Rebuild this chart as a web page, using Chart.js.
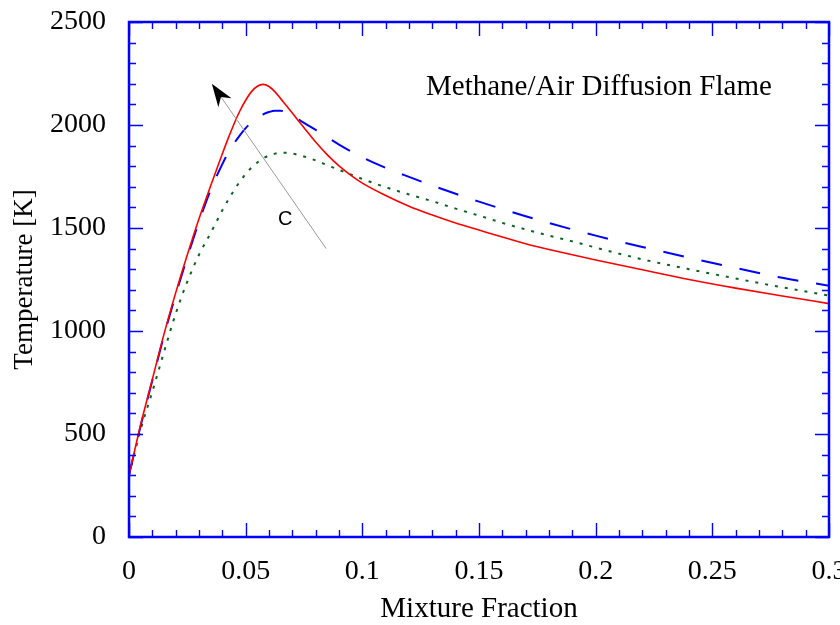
<!DOCTYPE html>
<html>
<head>
<meta charset="utf-8">
<title>Methane/Air Diffusion Flame</title>
<script src="https://cdn.jsdelivr.net/npm/chart.js@4.4.1/dist/chart.umd.min.js"></script>
<style>
  html, body { margin: 0; padding: 0; background: #ffffff; }
  #wrap { width: 840px; height: 625px; }
</style>
</head>
<body>
<div id="wrap"><canvas id="flameChart" width="840" height="625"></canvas></div>
<script>
// Mixture fraction grid shared by the three profiles (denser around the peaks)
const mixFrac = [0, 0.005, 0.01, 0.015, 0.02, 0.025, 0.03, 0.035,
  0.04, 0.0425, 0.045, 0.0475, 0.05, 0.0525, 0.055, 0.0575, 0.06, 0.0625, 0.065, 0.0675,
  0.07, 0.0725, 0.075, 0.08, 0.085, 0.09, 0.095, 0.1, 0.11, 0.12, 0.13, 0.14, 0.15, 0.16,
  0.17, 0.18, 0.19, 0.2, 0.22, 0.24, 0.26, 0.28, 0.3];

// Temperature [K]
const tempRed = [300, 545, 765, 985, 1185, 1370, 1545, 1705,
  1860, 1935, 2005, 2068, 2120, 2162, 2188, 2197, 2187, 2162, 2128, 2093,
  2058, 2022, 1987, 1917, 1855, 1802, 1757, 1718, 1658, 1606, 1563, 1524, 1490, 1456,
  1424, 1396, 1370, 1345, 1297, 1250, 1208, 1170, 1133];
const tempBlue = [300, 540, 760, 978, 1175, 1358, 1530, 1685,
  1810, 1865, 1910, 1950, 1985, 2013, 2035, 2052, 2063, 2069, 2069, 2060,
  2045, 2028, 2010, 1976, 1940, 1905, 1873, 1843, 1792, 1748, 1706, 1666, 1628, 1592,
  1557, 1524, 1493, 1463, 1408, 1356, 1306, 1258, 1220];
const tempGreen = [300, 522, 706, 898, 1084, 1240, 1370, 1476,
  1586, 1636, 1683, 1725, 1762, 1793, 1818, 1838, 1852, 1861, 1865, 1865,
  1861, 1855, 1847, 1828, 1805, 1782, 1760, 1738, 1698, 1663, 1630, 1594, 1560, 1525,
  1493, 1463, 1435, 1405, 1348, 1300, 1255, 1212, 1172];

// Axis ranges and tick steps
const xRange = [0, 0.3];
const yRange = [0, 2500];
const xMajorStep = 0.05, xMinorStep = 0.01;
const yMajorStep = 500, yMinorStep = 100;

// Annotations (data coordinates)
const noteTitle = { text: 'Methane/Air Diffusion Flame', x: 0.2014, y: 2184 };
const arrowFrom = { x: 0.0845, y: 1400 };
const arrowTo = { x: 0.0355, y: 2200 };
const noteC = { text: 'C', x: 0.067, y: 1540 };

const serif = '"Liberation Serif", "Times New Roman", serif';
const sans = '"Liberation Sans", Arial, sans-serif';

const toPoints = temps => mixFrac.map((x, i) => ({ x: x, y: temps[i] }));

// inward ticks, blue frame, arrow and in-plot labels
const framePlugin = {
    id: 'framePlugin',
    afterDatasetsDraw(chart) {
        const { ctx, chartArea: a, scales } = chart;
        const xs = scales.x, ys = scales.y;
        ctx.save();

        ctx.strokeStyle = '#0000ff';
        ctx.lineWidth = 1.4;
        ctx.beginPath();
        const nY = Math.round((yRange[1] - yRange[0]) / yMinorStep);
        for (let i = 0; i <= nY; i++) {
            const v = yRange[0] + i * yMinorStep;
            const py = Math.round(ys.getPixelForValue(v)) + 0.5;
            const len = i % (yMajorStep / yMinorStep) === 0 ? 14 : 7;
            ctx.moveTo(a.left, py); ctx.lineTo(a.left + len, py);
            ctx.moveTo(a.right, py); ctx.lineTo(a.right - len, py);
        }
        const nX = Math.round((xRange[1] - xRange[0]) / xMinorStep);
        for (let i = 0; i <= nX; i++) {
            const v = xRange[0] + i * xMinorStep;
            const px = Math.round(xs.getPixelForValue(v)) + 0.5;
            const len = i % Math.round(xMajorStep / xMinorStep) === 0 ? 14 : 7;
            ctx.moveTo(px, a.bottom); ctx.lineTo(px, a.bottom - len);
            ctx.moveTo(px, a.top); ctx.lineTo(px, a.top + len);
        }
        ctx.stroke();

        ctx.lineWidth = 2.5;
        ctx.strokeRect(a.left, a.top, a.right - a.left, a.bottom - a.top);

        // arrow
        const x0 = xs.getPixelForValue(arrowFrom.x), y0 = ys.getPixelForValue(arrowFrom.y);
        const x1 = xs.getPixelForValue(arrowTo.x), y1 = ys.getPixelForValue(arrowTo.y);
        const len = Math.hypot(x1 - x0, y1 - y0);
        const ux = (x1 - x0) / len, uy = (y1 - y0) / len;
        const nx = -uy, ny = ux;
        const headLen = 23, headHalf = 8, notch = 16;
        ctx.strokeStyle = '#9a9a9a';
        ctx.lineWidth = 1;
        ctx.beginPath();
        ctx.moveTo(x0, y0);
        ctx.lineTo(x1 - ux * notch, y1 - uy * notch);
        ctx.stroke();
        ctx.fillStyle = '#000000';
        ctx.beginPath();
        ctx.moveTo(x1, y1);
        ctx.lineTo(x1 - ux * headLen + nx * headHalf, y1 - uy * headLen + ny * headHalf);
        ctx.lineTo(x1 - ux * notch, y1 - uy * notch);
        ctx.lineTo(x1 - ux * headLen - nx * headHalf, y1 - uy * headLen - ny * headHalf);
        ctx.closePath();
        ctx.fill();

        // labels
        ctx.fillStyle = '#000000';
        ctx.textAlign = 'center';
        ctx.textBaseline = 'middle';
        ctx.font = '29px ' + serif;
        ctx.fillText(noteTitle.text, xs.getPixelForValue(noteTitle.x), ys.getPixelForValue(noteTitle.y));
        ctx.font = '20px ' + sans;
        ctx.fillText(noteC.text, xs.getPixelForValue(noteC.x), ys.getPixelForValue(noteC.y));

        ctx.restore();
    }
};

const ctx = document.getElementById('flameChart');

new Chart(ctx, {
    type: 'line',
    data: {
        datasets: [
            {
                label: 'Red',
                data: toPoints(tempRed),
                borderColor: '#ff0000',
                borderWidth: 1.6,
                pointRadius: 0,
                cubicInterpolationMode: 'monotone',
                fill: false
            },
            {
                label: 'Blue',
                data: toPoints(tempBlue),
                borderColor: '#0000ff',
                borderWidth: 2,
                borderDash: [21, 18],
                pointRadius: 0,
                cubicInterpolationMode: 'monotone',
                fill: false
            },
            {
                label: 'Green',
                data: toPoints(tempGreen),
                borderColor: '#0b641e',
                borderWidth: 2,
                borderDash: [3, 7],
                pointRadius: 0,
                cubicInterpolationMode: 'monotone',
                fill: false
            }
        ]
    },
    options: {
        responsive: false,
        animation: false,
        events: [],
        layout: { padding: { top: 22, right: 11, bottom: 0, left: 0 } },
        plugins: {
            legend: { display: false },
            tooltip: { enabled: false }
        },
        scales: {
            x: {
                type: 'linear',
                min: xRange[0],
                max: xRange[1],
                grid: { display: false, drawTicks: false },
                border: { display: false },
                ticks: {
                    stepSize: xMajorStep,
                    color: '#000000',
                    padding: 18,
                    maxRotation: 0,
                    autoSkip: false,
                    font: { family: serif, size: 28 },
                    callback: value => String(+value.toFixed(2))
                },
                title: {
                    display: true,
                    text: 'Mixture Fraction',
                    color: '#000000',
                    font: { family: serif, size: 29 },
                    padding: { top: 0, bottom: -2 }
                },
                afterFit: scale => {
                    scale.height = 88;
                    scale.paddingLeft = 0;
                    scale.paddingRight = 0;
                }
            },
            y: {
                type: 'linear',
                min: yRange[0],
                max: yRange[1],
                grid: { display: false, drawTicks: false },
                border: { display: false },
                ticks: {
                    stepSize: yMajorStep,
                    color: '#000000',
                    padding: 23,
                    autoSkip: false,
                    font: { family: serif, size: 28 },
                    callback: value => String(value)
                },
                title: {
                    display: true,
                    text: 'Temperature [K]',
                    color: '#000000',
                    font: { family: serif, size: 27 },
                    padding: { top: 9, bottom: 0 }
                },
                afterFit: scale => {
                    scale.width = 129;
                    scale.paddingTop = 0;
                    scale.paddingBottom = 0;
                }
            }
        }
    },
    plugins: [framePlugin]
});
</script>
</body>
</html>
